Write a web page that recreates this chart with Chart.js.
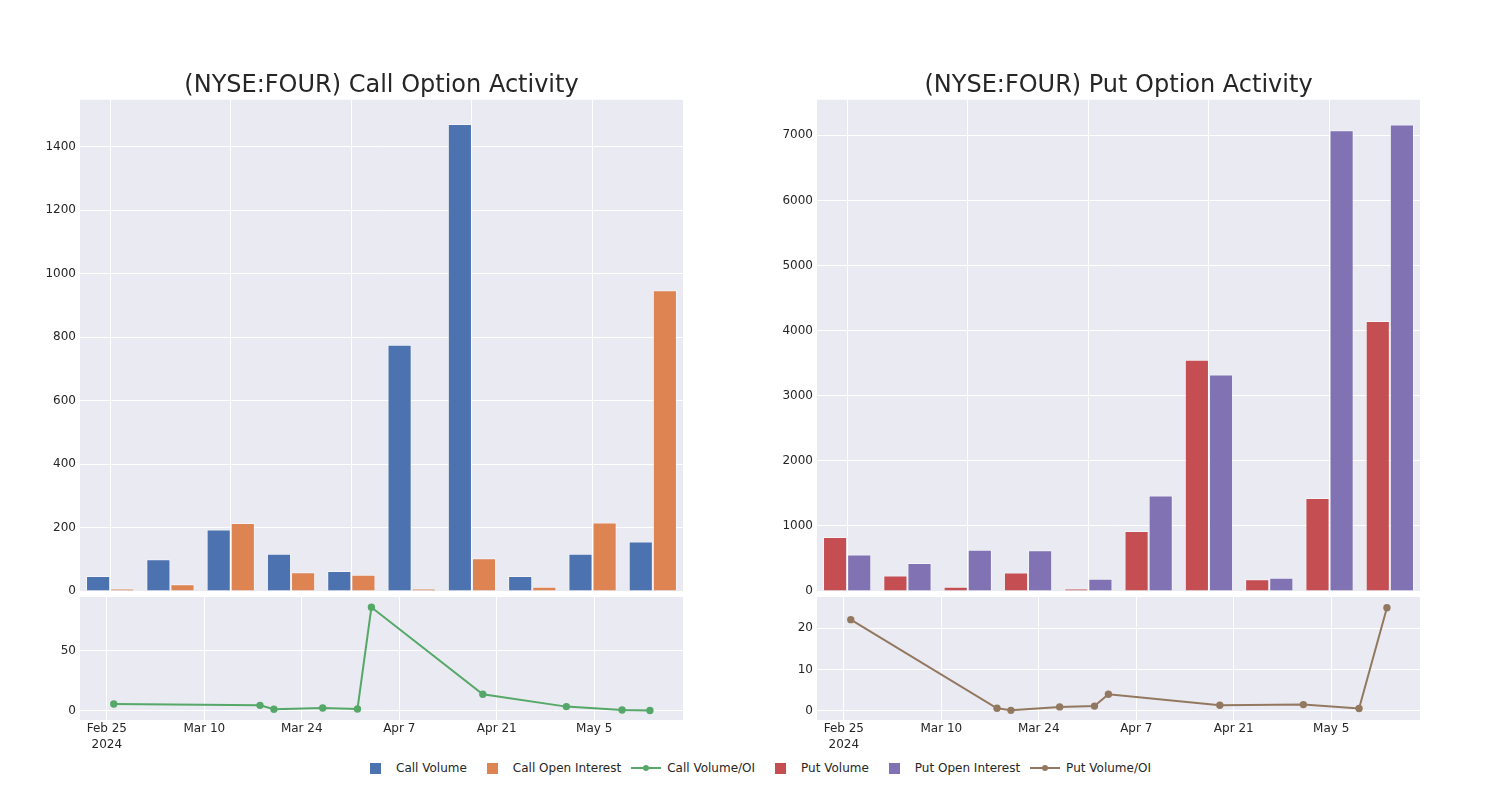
<!DOCTYPE html>
<html><head><meta charset="utf-8">
<script src="https://cdn.jsdelivr.net/npm/chart.js@4.4.1/dist/chart.umd.min.js"></script>
<style>
body{margin:0;background:#fff;width:1500px;height:800px;position:relative;overflow:hidden;font-family:"DejaVu Sans",sans-serif;}
.box{position:absolute;}
#legend{position:absolute;top:760px;left:360px;height:16px;display:flex;align-items:center;font-size:12px;color:#262626;white-space:nowrap;}
#legend .it{display:flex;align-items:center;margin-right:10px;}
#legend .hb{position:relative;width:30px;height:12px;margin-right:6px;}
#legend .sq{position:absolute;left:10px;top:0.5px;width:11px;height:11px;}
#legend .ln{position:absolute;left:0;top:5px;width:30px;height:2px;}
#legend .dot{position:absolute;left:12px;top:3px;width:6px;height:6px;border-radius:50%;}
</style></head><body>
<div class="box" style="left:0;top:71px;width:683px;height:528px"><canvas id="callBar"></canvas></div>
<div class="box" style="left:0;top:590px;width:683px;height:160px"><canvas id="callLine"></canvas></div>
<div class="box" style="left:737px;top:71px;width:683px;height:528px"><canvas id="putBar"></canvas></div>
<div class="box" style="left:737px;top:590px;width:683px;height:160px"><canvas id="putLine"></canvas></div>
<div id="legend"></div>
<script>
// ---- data ----
const dates = ['2024-02-26','2024-03-18','2024-03-20','2024-03-27','2024-04-01','2024-04-03','2024-04-19','2024-05-01','2024-05-09','2024-05-13'];
const callVolume = [47, 100, 194, 117, 63, 776, 1472, 47, 117, 156];
const callOpenInterest = [8, 21, 214, 59, 51, 8, 103, 13, 216, 948];
const callVolOI = [5.5, 4.4, 1.1, 2.2, 1.4, 86.1, 13.7, 3.35, 0.5, 0.1];
const putVolume = [830, 240, 65, 285, 40, 922, 3553, 182, 1430, 4148];
const putOpenInterest = [562, 430, 634, 625, 188, 1466, 3327, 204, 7080, 7168];
const putVolOI = [22.1, 0.56, 0.07, 0.9, 1.1, 3.96, 1.3, 1.46, 0.5, 25.0];
const dateTicks = ['2024-02-25','2024-03-10','2024-03-24','2024-04-07','2024-04-21','2024-05-05'];
const callBarTicks = [0, 200, 400, 600, 800, 1000, 1200, 1400];
const putBarTicks = [0, 1000, 2000, 3000, 4000, 5000, 6000, 7000];
const callLineTicks = [0, 50];
const putLineTicks = [0, 10, 20];
const titles = ['(NYSE:FOUR) Call Option Activity', '(NYSE:FOUR) Put Option Activity'];
const seriesNames = ['Call Volume', 'Call Open Interest', 'Call Volume/OI', 'Put Volume', 'Put Open Interest', 'Put Volume/OI'];
const colors = {callVol:'#4C72B0', callOI:'#DD8452', callRatio:'#55A868', putVol:'#C44E52', putOI:'#8172B3', putRatio:'#937860'};

const origin = Date.parse('2024-02-25');
const dayOf = d => (Date.parse(d) - origin) / 86400000;
const MONTHS = ['Jan','Feb','Mar','Apr','May','Jun','Jul','Aug','Sep','Oct','Nov','Dec'];
const fmtDate = (v, i) => { const d = new Date(origin + v*86400000); const s = MONTHS[d.getUTCMonth()] + ' ' + d.getUTCDate(); return i === 0 ? [s, String(d.getUTCFullYear())] : s; };

const FONT = {family:'"DejaVu Sans", sans-serif', size:12};
const XFONT = {family:'"DejaVu Sans", sans-serif', size:12, lineHeight:1.4};
const TXT = '#262626';
const BG = '#EAEAF2';
const bgPlugin = {id:'bg', beforeDraw(chart){const {ctx, chartArea:a} = chart; ctx.save(); ctx.fillStyle = BG; ctx.fillRect(a.left, a.top, a.width, a.height); ctx.restore();}};
const zeroPad = s => { s.paddingTop = 0; s.paddingBottom = 0; s.paddingLeft = 0; s.paddingRight = 0; };

function barChart(id, title, labels, s1, s2, c1, c2, n1, n2, ymax, yticks){
  return new Chart(document.getElementById(id), {
    type:'bar',
    data:{labels, datasets:[
      {label:n1, data:s1, backgroundColor:c1, borderColor:'rgba(255,255,255,0.45)', borderWidth:1, categoryPercentage:0.8, barPercentage:1.0},
      {label:n2, data:s2, backgroundColor:c2, borderColor:'rgba(255,255,255,0.45)', borderWidth:1, categoryPercentage:0.8, barPercentage:1.0}
    ]},
    options:{responsive:true, maintainAspectRatio:false, animation:false,
      layout:{autoPadding:false, padding:{top:0,left:0,right:0,bottom:8}},
      plugins:{legend:{display:false}, tooltip:{enabled:false},
        title:{display:true, text:title, fullSize:false, color:TXT, font:{family:FONT.family, size:24, weight:'normal'}, padding:{top:0,bottom:0}}},
      scales:{
        x:{offset:true, grid:{offset:false, drawTicks:false, color:c => (c.index % 2 === 0 ? '#ffffff' : 'rgba(0,0,0,0)'), lineWidth:1}, border:{display:false}, ticks:{display:false},
           afterFit:s => { s.height = 0; zeroPad(s); }},
        y:{min:0, max:ymax, grid:{color:'#ffffff', drawTicks:false, lineWidth:1}, border:{display:false},
           afterBuildTicks:s => { s.ticks = yticks.map(v => ({value:v})); },
           afterFit:s => { s.width = 80; zeroPad(s); },
           ticks:{color:TXT, font:FONT, padding:4, callback:v => String(v)}}
      }},
    plugins:[bgPlugin]
  });
}

function lineChart(id, xs, ys, color, name, ymin, ymax, yticks){
  return new Chart(document.getElementById(id), {
    type:'line',
    data:{datasets:[{label:name, data:xs.map((d,i)=>({x:dayOf(d), y:ys[i]})), borderColor:color, backgroundColor:color, borderWidth:2, pointRadius:2.7, pointHoverRadius:2.7, tension:0}]},
    options:{responsive:true, maintainAspectRatio:false, animation:false,
      layout:{autoPadding:false, padding:{top:7,left:0,right:0,bottom:0}},
      plugins:{legend:{display:false}, tooltip:{enabled:false}},
      scales:{
        x:{type:'linear', min:-3.85, max:82.75, grid:{color:'#ffffff', drawTicks:false}, border:{display:false},
           afterBuildTicks:s => { s.ticks = dateTicks.map(d => ({value:dayOf(d)})); },
           afterFit:s => { s.height = 30; zeroPad(s); },
           ticks:{color:TXT, font:XFONT, padding:0, maxRotation:0, autoSkip:false, callback:(v,i)=>fmtDate(v,i)}},
        y:{min:ymin, max:ymax, grid:{color:'#ffffff', drawTicks:false}, border:{display:false},
           afterBuildTicks:s => { s.ticks = yticks.map(v => ({value:v})); },
           afterFit:s => { s.width = 80; zeroPad(s); },
           ticks:{color:TXT, font:FONT, padding:4, callback:v => String(v)}}
      }},
    plugins:[bgPlugin]
  });
}

barChart('callBar', titles[0], dates, callVolume, callOpenInterest, colors.callVol, colors.callOI, seriesNames[0], seriesNames[1], 1548, callBarTicks);
lineChart('callLine', dates, callVolOI, colors.callRatio, seriesNames[2], -7.8, 94.7, callLineTicks);
barChart('putBar', titles[1], dates, putVolume, putOpenInterest, colors.putVol, colors.putOI, seriesNames[3], seriesNames[4], 7546, putBarTicks);
lineChart('putLine', dates, putVolOI, colors.putRatio, seriesNames[5], -2.28, 27.6, putLineTicks);

// legend built from series names
const legendItems = [
  {label:seriesNames[0], color:colors.callVol, kind:'sq'},
  {label:seriesNames[1], color:colors.callOI, kind:'sq'},
  {label:seriesNames[2], color:colors.callRatio, kind:'ln'},
  {label:seriesNames[3], color:colors.putVol, kind:'sq'},
  {label:seriesNames[4], color:colors.putOI, kind:'sq'},
  {label:seriesNames[5], color:colors.putRatio, kind:'ln'}
];
const lg = document.getElementById('legend');
legendItems.forEach(it => {
  const d = document.createElement('div'); d.className = 'it';
  const hb = document.createElement('span'); hb.className = 'hb';
  if (it.kind === 'sq') { const s = document.createElement('i'); s.className = 'sq'; s.style.background = it.color; hb.appendChild(s); }
  else {
    const l = document.createElement('i'); l.className = 'ln'; l.style.background = it.color; hb.appendChild(l);
    const dot = document.createElement('i'); dot.className = 'dot'; dot.style.background = it.color; hb.appendChild(dot);
  }
  const t = document.createElement('span'); t.textContent = it.label;
  d.appendChild(hb); d.appendChild(t); lg.appendChild(d);
});
</script>
</body></html>
